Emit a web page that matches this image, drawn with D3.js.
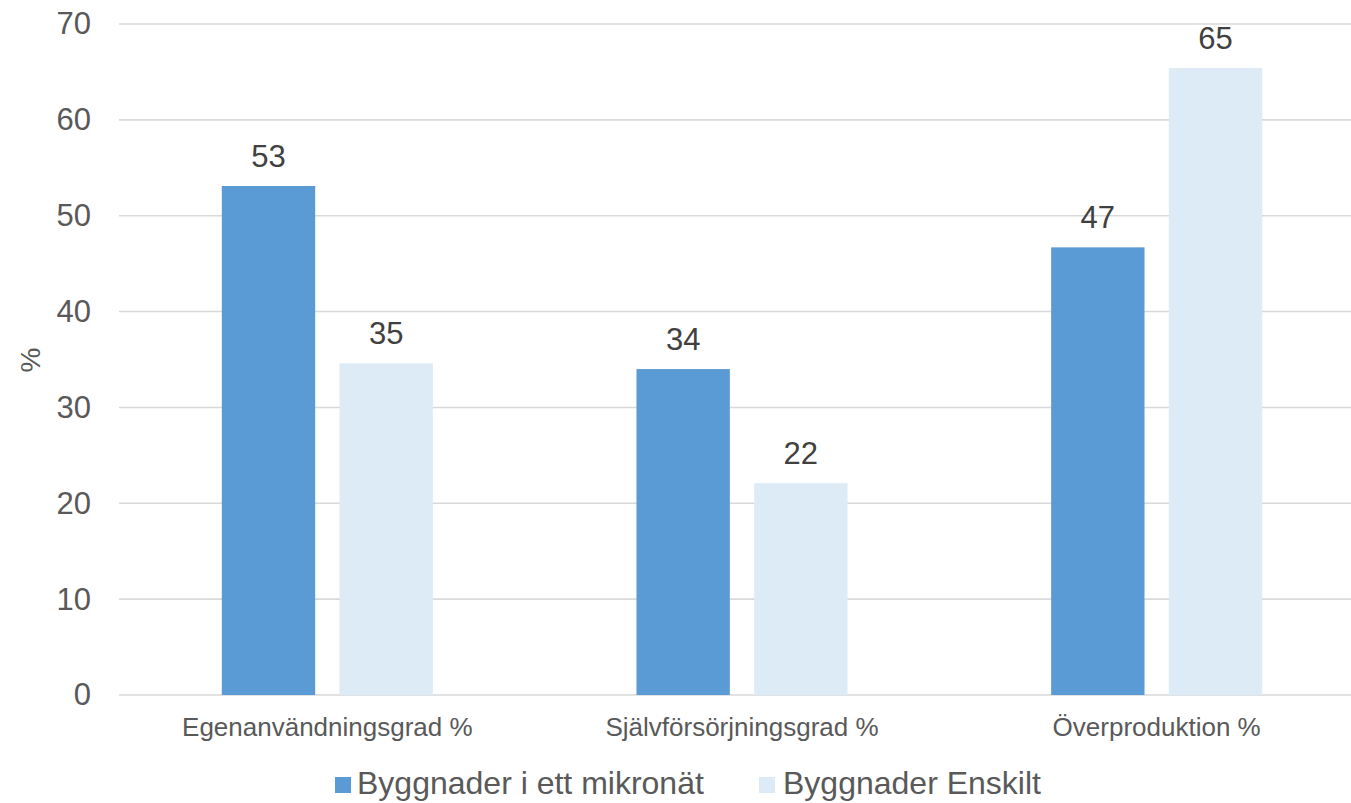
<!DOCTYPE html>
<html>
<head>
<meta charset="utf-8">
<script src="https://cdn.jsdelivr.net/npm/d3@7"></script>
<style>
  html, body { margin: 0; padding: 0; background: #fff; }
  svg { display: block; font-family: "Liberation Sans", Arial, sans-serif; }
</style>
</head>
<body>
<svg id="chart" width="1351" height="803"></svg>
<script>
const categories = ["Egenanvändningsgrad %", "Självförsörjningsgrad %", "Överproduktion %"];
const seriesNames = ["Byggnader i ett mikronät", "Byggnader Enskilt"];
const seriesMikronat = [53.1, 34.0, 46.7];
const seriesEnskilt = [34.6, 22.1, 65.4];
const yTicks = [0, 10, 20, 30, 40, 50, 60, 70];
const colors = ["#5B9BD5", "#DDEBF7"];
const yTitle = "%";

const seriesValues = [seriesMikronat, seriesEnskilt];
const data = categories.map((c, i) => ({
  cat: c,
  vals: seriesNames.map((s, j) => ({ series: s, idx: j, value: seriesValues[j][i] }))
}));

const svg = d3.select("#chart");

const plotLeft = 120, plotRight = 1364;
const x0 = d3.scaleBand().domain(categories).range([plotLeft, plotRight]).paddingInner(0).paddingOuter(0);
const x1 = d3.scaleBand().domain(seriesNames).range([0, x0.bandwidth()]).paddingInner(0.2066).paddingOuter(0.865);
const y = d3.scaleLinear().domain([0, 70]).range([695, 24]);

// gridlines
svg.append("g")
  .selectAll("line")
  .data(yTicks)
  .join("line")
  .attr("x1", 119).attr("x2", plotRight)
  .attr("y1", d => y(d)).attr("y2", d => y(d))
  .attr("stroke", "#D9D9D9").attr("stroke-width", 1.6);

// y axis labels
const yAxis = d3.axisLeft(y).tickValues(yTicks).tickSize(0).tickPadding(0);
const yg = svg.append("g").attr("transform", "translate(91,0)").call(yAxis);
yg.select(".domain").remove();
yg.selectAll("text")
  .attr("fill", "#595959")
  .attr("font-size", "31px")
  .attr("font-family", "Liberation Sans, Arial, sans-serif");

// y title
svg.append("text")
  .attr("transform", "translate(40,360) rotate(-90)")
  .attr("text-anchor", "middle")
  .attr("fill", "#595959")
  .attr("font-size", "28px")
  .text(yTitle);

// bars
const groups = svg.append("g").selectAll("g")
  .data(data)
  .join("g")
  .attr("transform", d => `translate(${x0(d.cat)},0)`);

groups.selectAll("rect")
  .data(d => d.vals)
  .join("rect")
  .attr("x", d => x1(d.series))
  .attr("width", x1.bandwidth())
  .attr("y", d => y(d.value))
  .attr("height", d => y(0) - y(d.value))
  .attr("fill", d => colors[d.idx]);

groups.selectAll("text.val")
  .data(d => d.vals)
  .join("text")
  .attr("class", "val")
  .attr("x", d => x1(d.series) + x1.bandwidth() / 2)
  .attr("y", d => y(d.value) - 19)
  .attr("text-anchor", "middle")
  .attr("fill", "#404040")
  .attr("font-size", "31px")
  .text(d => Math.round(d.value));

// x axis labels
const xAxis = d3.axisBottom(x0).tickSize(0).tickPadding(0);
const xg = svg.append("g").attr("transform", "translate(0,718)").call(xAxis);
xg.select(".domain").remove();
xg.selectAll("text")
  .attr("fill", "#595959")
  .attr("font-size", "26px")
  .attr("font-family", "Liberation Sans, Arial, sans-serif");

// legend
const legendItems = [
  { name: seriesNames[0], color: colors[0], mx: 335, tx: 357 },
  { name: seriesNames[1], color: colors[1], mx: 759, tx: 783 }
];
const lg = svg.append("g");
lg.selectAll("rect")
  .data(legendItems)
  .join("rect")
  .attr("x", d => d.mx).attr("y", 777)
  .attr("width", 16).attr("height", 16)
  .attr("fill", d => d.color);
lg.selectAll("text")
  .data(legendItems)
  .join("text")
  .attr("x", d => d.tx).attr("y", 794)
  .attr("fill", "#595959")
  .attr("font-size", "32px")
  .text(d => d.name);
</script>
</body>
</html>
